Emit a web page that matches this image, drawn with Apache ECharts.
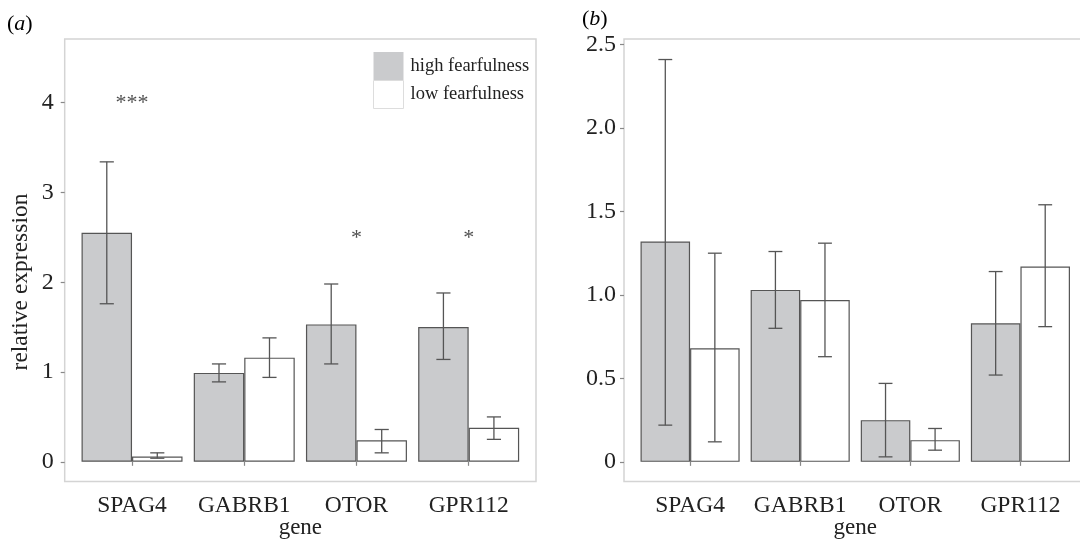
<!DOCTYPE html>
<html>
<head>
<meta charset="utf-8">
<script src="https://cdn.jsdelivr.net/npm/echarts@6/dist/echarts.min.js"></script>
<style>html,body{margin:0;padding:0;background:#fff;}#c{width:1080px;height:541px;}</style>
</head>
<body>
<div id="c"></div>
<script>
// ---- data ----
var genes = ['SPAG4', 'GABRB1', 'OTOR', 'GPR112'];
var seriesNames = ['high fearfulness', 'low fearfulness'];

// panel (a)
var aHigh = [2.55, 0.99, 1.53, 1.50];
var aHighLo = [1.76, 0.89, 1.09, 1.14];
var aHighHi = [3.34, 1.09, 1.98, 1.88];
var aLow = [0.06, 1.16, 0.24, 0.38];
var aLowLo = [0.04, 0.94, 0.10, 0.25];
var aLowHi = [0.10, 1.38, 0.36, 0.50];
var aStars = ['***', '', '*', '*'];
var aStarY = [4.03, null, 2.52, 2.52];
var aTicks = [0, 1, 2, 3, 4];

// panel (b)
var bHigh = [1.32, 1.03, 0.25, 0.83];
var bHighLo = [0.22, 0.80, 0.03, 0.52];
var bHighHi = [2.41, 1.26, 0.47, 1.14];
var bLow = [0.68, 0.97, 0.13, 1.17];
var bLowLo = [0.12, 0.63, 0.07, 0.81];
var bLowHi = [1.25, 1.31, 0.20, 1.54];
var bTicks = [0, 0.5, 1.0, 1.5, 2.0, 2.5];

// ---- styling ----
var FONT = '"Liberation Serif", "Times New Roman", serif';
var TXT = '#222';
var HIGH_FILL = '#cacbcd';
var BAR_EDGE = '#555';
var ERR = '#555';
var BOX = '#d4d4d4';

var chart = echarts.init(document.getElementById('c'));

var aMin = -0.218, aMax = 4.708;
var bMin = -0.117, bMax = 2.533;

function errData(lo, hi) {
  return genes.map(function (g, i) { return [i, lo[i], hi[i]]; });
}
function makeErr(sign) {
  return function (params, api) {
    var c = api.value(0);
    var lo = api.coord([c, api.value(1)]);
    var hi = api.coord([c, api.value(2)]);
    var band = api.size([1, 0])[0];
    var bw = band * 0.45;
    var x = lo[0] + sign * bw / 2;
    var cap = bw * 0.14;
    var st = { stroke: ERR, lineWidth: 1.3 };
    return {
      type: 'group',
      children: [
        { type: 'line', shape: { x1: x, y1: lo[1], x2: x, y2: hi[1] }, style: st },
        { type: 'line', shape: { x1: x - cap, y1: lo[1], x2: x + cap, y2: lo[1] }, style: st },
        { type: 'line', shape: { x1: x - cap, y1: hi[1], x2: x + cap, y2: hi[1] }, style: st }
      ]
    };
  };
}

// geometry of boxes (outer) and category bands (inner)
var aLeft = 64.7, aWidth = 471.3, bLeft = 624, bWidth = 462.5;
var gTop = 39, gHeight = 442.4;
var aBand = aWidth / 4.2, bBand = bWidth / 4.2;

var grids = [
  { left: aLeft, top: gTop, width: aWidth, height: gHeight, show: true, borderColor: BOX, borderWidth: 1.5, backgroundColor: 'transparent', outerBoundsMode: 'none', containLabel: false },
  { left: aLeft + 0.1 * aBand, top: gTop, width: 4 * aBand, height: gHeight, outerBoundsMode: 'none', containLabel: false },
  { left: bLeft, top: gTop, width: bWidth, height: gHeight, show: true, borderColor: BOX, borderWidth: 1.5, backgroundColor: 'transparent', outerBoundsMode: 'none', containLabel: false },
  { left: bLeft + 0.1 * bBand, top: gTop, width: 4 * bBand, height: gHeight, outerBoundsMode: 'none', containLabel: false }
];

function outerX(gi) {
  return { type: 'value', gridIndex: gi, show: false, min: 0, max: 1 };
}
function innerX(gi) {
  return {
    type: 'category', gridIndex: gi, data: genes,
    axisLine: { show: false },
    axisTick: { show: true, alignWithLabel: true, interval: 0, length: 4, lineStyle: { color: '#888', width: 1.2 } },
    axisLabel: { interval: 0, fontFamily: FONT, fontSize: 23.5, color: TXT, margin: 12 },
    name: 'gene', nameLocation: 'middle', nameGap: 35, nameMoveOverlap: false,
    nameTextStyle: { fontFamily: FONT, fontSize: 23, color: TXT },
    splitLine: { show: false }
  };
}
function outerY(gi, mn, mx, ticks, fmt, margin) {
  return {
    type: 'value', gridIndex: gi, min: mn, max: mx,
    axisLine: { show: false },
    splitLine: { show: false },
    axisTick: { show: true, length: 4, customValues: ticks, lineStyle: { color: '#888', width: 1.2 } },
    axisLabel: { customValues: ticks, fontFamily: FONT, fontSize: 24, color: TXT, margin: margin, formatter: fmt }
  };
}
function innerY(gi, mn, mx) {
  return { type: 'value', gridIndex: gi, min: mn, max: mx, show: false, splitLine: { show: false } };
}

function barSeries(name, data, xi, yi, fill, edge) {
  return {
    type: 'bar', name: name, data: data, xAxisIndex: xi, yAxisIndex: yi,
    barGap: '0%', barCategoryGap: '10%',
    itemStyle: { color: fill, borderColor: edge, borderWidth: 1.2 },
    emphasis: { disabled: true }, silent: true
  };
}
function errSeries(sign, lo, hi, xi, yi) {
  return {
    type: 'custom', xAxisIndex: xi, yAxisIndex: yi, silent: true, z: 5,
    renderItem: makeErr(sign), encode: { x: 0, y: [1, 2] },
    data: errData(lo, hi)
  };
}

var starData = [];
genes.forEach(function (g, i) {
  if (aStars[i]) starData.push([i, aStarY[i], aStars[i]]);
});

var panelRich = {
  p: { fontFamily: FONT, fontSize: 22, color: TXT },
  i: { fontFamily: FONT, fontSize: 22, fontStyle: 'italic', color: TXT }
};

var option = {
  backgroundColor: '#fff',
  animation: false,
  grid: grids,
  xAxis: [outerX(0), innerX(1), outerX(2), innerX(3)],
  yAxis: [
    outerY(0, aMin, aMax, aTicks, function (v) { return String(Math.round(v)); }, 11),
    innerY(1, aMin, aMax),
    outerY(2, bMin, bMax, bTicks, function (v) { return v === 0 ? '0' : v.toFixed(1); }, 8),
    innerY(3, bMin, bMax)
  ],
  legend: {
    left: 373, top: 52, padding: 0, orient: 'vertical', itemGap: 0, itemWidth: 30, itemHeight: 28,
    icon: 'rect',
    textStyle: { fontFamily: FONT, fontSize: 18.5, color: TXT, padding: [0, 0, 0, 2] },
    data: [
      { name: seriesNames[0], itemStyle: { color: HIGH_FILL, borderWidth: 0 } },
      { name: seriesNames[1], itemStyle: { color: '#fff', borderColor: '#ddd', borderWidth: 1 } }
    ],
    selectedMode: false
  },
  graphic: [
    { type: 'text', left: 7, top: 13, style: { text: '{p|(}{i|a}{p|)}', rich: panelRich } },
    { type: 'text', left: 582, top: 8, style: { text: '{p|(}{i|b}{p|)}', rich: panelRich } },
    { type: 'text', x: 21, y: 282, rotation: Math.PI / 2,
      style: { text: 'relative expression', font: '23.5px ' + FONT, fill: TXT, align: 'center', verticalAlign: 'middle' } }
  ],
  series: [
    barSeries(seriesNames[0], aHigh, 1, 1, HIGH_FILL, BAR_EDGE),
    barSeries(seriesNames[1], aLow, 1, 1, '#fff', BAR_EDGE),
    errSeries(-1, aHighLo, aHighHi, 1, 1),
    errSeries(1, aLowLo, aLowHi, 1, 1),
    {
      type: 'scatter', xAxisIndex: 1, yAxisIndex: 1, silent: true,
      symbolSize: 1, itemStyle: { color: 'rgba(0,0,0,0)' },
      data: starData,
      label: {
        show: true, position: 'inside', formatter: function (p) { return p.data[2]; },
        fontFamily: FONT, fontSize: 22, color: TXT, offset: [0, 3]
      }
    },
    barSeries(seriesNames[0], bHigh, 3, 3, HIGH_FILL, BAR_EDGE),
    barSeries(seriesNames[1], bLow, 3, 3, '#fff', BAR_EDGE),
    errSeries(-1, bHighLo, bHighHi, 3, 3),
    errSeries(1, bLowLo, bLowHi, 3, 3)
  ]
};
chart.setOption(option);
</script>
</body>
</html>
